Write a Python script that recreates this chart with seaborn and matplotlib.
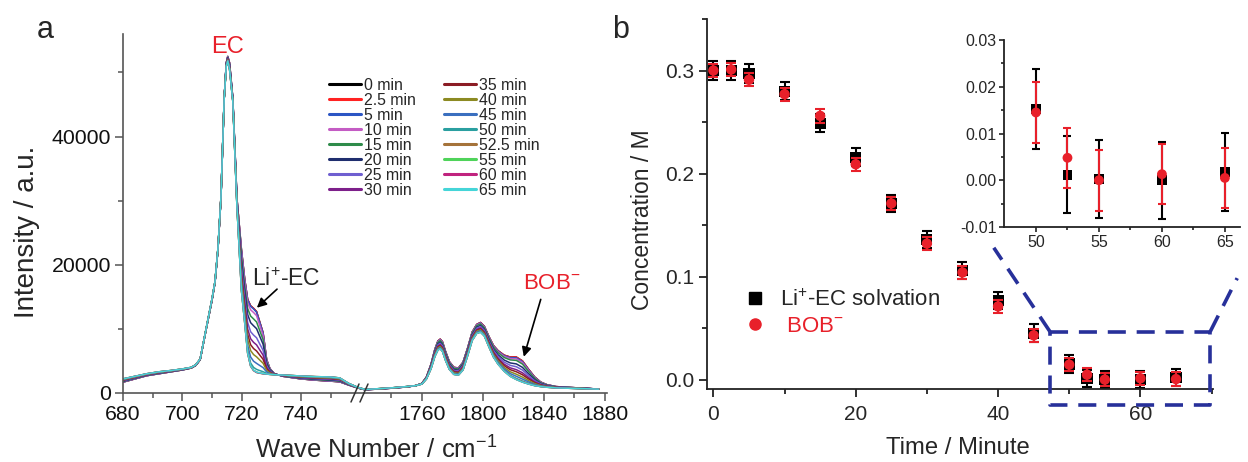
import numpy as np
import pandas as pd
import matplotlib
matplotlib.use('Agg')
import matplotlib.pyplot as plt
import seaborn as sns
from matplotlib.lines import Line2D
from matplotlib.ticker import MultipleLocator, FormatStrFormatter

sns.set_style('ticks')
plt.rcParams['font.family'] = ['Liberation Sans', 'DejaVu Sans']
plt.rcParams['mathtext.fontset'] = 'custom'
plt.rcParams['mathtext.rm'] = 'Liberation Sans'
plt.rcParams['mathtext.it'] = 'Liberation Sans'
plt.rcParams['axes.unicode_minus'] = False

# --- data: spectra (0 min and 65 min traces) ---
wn_left = [680, 684, 688, 692, 696, 700, 703, 704.5, 706, 708, 710, 711, 712, 713,
           714.1, 714.8, 715.3, 715.9, 717, 718.4, 719.9, 721, 722, 723, 724, 725,
           726, 727.2, 728.4, 729.5, 731, 734, 740, 745, 750, 753, 756, 759, 761.2]
i0_left = [1700, 2200, 2700, 3000, 3300, 3600, 3900, 4300, 5200, 9900, 14500, 17250,
           22400, 30300, 46000, 51500, 52500, 51500, 46000, 30300, 22400, 17800, 14600,
           13600, 13200, 12700, 11200, 9400, 5200, 3800, 3000, 2600, 2200, 2000, 1850,
           1750, 1250, 800, 550]
i65_left = [2200, 2600, 3000, 3300, 3500, 3750, 4000, 4400, 5300, 10000, 14700, 17400,
            22600, 30500, 46000, 51000, 51800, 50500, 45500, 29000, 16000, 11000, 6200,
            4200, 3500, 3200, 3100, 3000, 2950, 2900, 2850, 2800, 2650, 2550, 2500,
            2350, 1500, 900, 600]

wn_right = [1722, 1730, 1740, 1750, 1756, 1760, 1763, 1766, 1768.5, 1770.5, 1772, 1773.5,
            1775.5, 1778, 1781, 1784, 1787, 1790, 1793, 1796, 1798.5, 1801, 1804, 1807,
            1810, 1814, 1818, 1822, 1826, 1830, 1834, 1838, 1842, 1848, 1855, 1862,
            1870, 1876]
i0_right = [500, 600, 750, 950, 1150, 1500, 2500, 4500, 6800, 8100, 8400, 8000, 6500,
            4900, 4000, 3900, 4800, 7000, 9500, 10700, 11000, 10400, 8800, 7400, 6600,
            5900, 5600, 5600, 5000, 3700, 2500, 1700, 1300, 1000, 900, 800, 700, 600]
i65_right = [550, 650, 800, 1000, 1150, 1400, 2200, 3800, 5700, 6700, 6900, 6500, 5100,
             3700, 2900, 2800, 3600, 5800, 8200, 9300, 9500, 8900, 7200, 5600, 4500,
             3400, 2600, 2100, 1700, 1400, 1150, 1000, 900, 800, 750, 700, 650, 600]

# --- data: concentrations ---
times = [0, 2.5, 5, 10, 15, 20, 25, 30, 35, 40, 45, 50, 52.5, 55, 60, 65]
time_labels = ['0 min', '2.5 min', '5 min', '10 min', '15 min', '20 min', '25 min',
               '30 min', '35 min', '40 min', '45 min', '50 min', '52.5 min', '55 min',
               '60 min', '65 min']
li_conc = [0.300, 0.300, 0.297, 0.280, 0.249, 0.216, 0.171, 0.136, 0.106, 0.077,
           0.045, 0.0152, 0.0012, 0.0003, 0.0, 0.0018]
li_err = [0.009, 0.009, 0.009, 0.009, 0.009, 0.009, 0.0085, 0.0085, 0.0085, 0.0085,
          0.0085, 0.0085, 0.0083, 0.0083, 0.0082, 0.0083]
bob_conc = [0.300, 0.301, 0.291, 0.277, 0.256, 0.209, 0.171, 0.132, 0.104, 0.071,
            0.043, 0.0145, 0.0048, 0.0, 0.0013, 0.0005]
bob_err = [0.0065, 0.0065, 0.0065, 0.0065, 0.0065, 0.0065, 0.0065, 0.0065, 0.0065,
           0.0065, 0.0065, 0.0065, 0.0064, 0.0065, 0.0064, 0.0065]

colors = ['#000000', '#ff2222', '#2b55c4', '#c45cc4', '#2e8b4a', '#1f2e6e', '#6f5fd0',
          '#7d1f8a', '#8b1c24', '#8c8a22', '#3a6fbf', '#2a9fa0', '#a5733a', '#4fd35a',
          '#c0237e', '#45d5d8']
RED = '#e8202a'
NAVY = '#27309a'

W, H = 1248, 462


def box(x0, y0, x1, y1):
    # pixel box (top-left origin) -> figure fraction rect
    return [x0 / W, 1 - y1 / H, (x1 - x0) / W, (y1 - y0) / H]


def fx(x):
    return x / W


def fy(y):
    return 1 - y / H


# spectra in the long format; intermediate times mixed by measured concentration
rows = []
for lab, cl, cb in zip(time_labels, li_conc, bob_conc):
    fl = cl / li_conc[0]
    fb = cb / bob_conc[0]
    for w, a, b in zip(wn_left, i0_left, i65_left):
        rows.append(('L', lab, w, b + fl * (a - b)))
    for w, a, b in zip(wn_right, i0_right, i65_right):
        rows.append(('R', lab, w, b + fb * (a - b)))
spec = pd.DataFrame(rows, columns=['part', 'time', 'wn', 'I'])

fig = plt.figure(figsize=(W / 100, H / 100), dpi=100)

ax1 = fig.add_axes(box(123, 34, 364, 393))
ax2 = fig.add_axes(box(364, 34, 607, 393))
ax2.patch.set_alpha(0)
for ax, part in [(ax1, 'L'), (ax2, 'R')]:
    sns.lineplot(data=spec[spec.part == part], x='wn', y='I', hue='time',
                 hue_order=time_labels, palette=colors, estimator=None, sort=False,
                 lw=1.1, legend=False, ax=ax)
    ax.set_ylim(0, 56000)
    ax.set_xlabel('')
    ax.set_ylabel('')
    ax.spines['top'].set_visible(False)
    ax.spines['right'].set_visible(False)
    for s in ax.spines.values():
        s.set_linewidth(1.2)
        s.set_color('#555555')
    ax.tick_params(which='major', length=5.5, width=1.1, labelsize=15.3, pad=3,
                   color='#555555', labelcolor='#111111')
    ax.tick_params(which='minor', length=3.5, width=1.1, color='#555555')

ax1.set_xlim(680, 761.2)
ax1.set_xticks([680, 700, 720, 740])
ax1.set_xticks([690, 710, 730, 750], minor=True)
ax1.set_yticks([0, 20000, 40000])
ax1.set_yticks([10000, 30000, 50000], minor=True)
ax1.set_yticklabels(['0', '20000', '40000'])

ax2.set_xlim(1722, 1881.5)
ax2.set_xticks([1760, 1800, 1840, 1880])
ax2.set_xticks([1740, 1780, 1820, 1860], minor=True)
ax2.spines['left'].set_visible(False)
ax2.tick_params(axis='y', which='both', left=False, labelleft=False)

# axis break marks
for dx in (-5, 4):
    fig.add_artist(Line2D([fx(360 + dx - 4), fx(360 + dx + 4)], [fy(402), fy(384)],
                          color='#333333', lw=1.1))

# legend for the spectra
handles = [Line2D([], [], color=c, lw=2.2) for c in colors]
fig.legend(handles, time_labels, ncol=2, loc='upper left',
           bbox_to_anchor=(fx(329), fy(78)), frameon=False, fontsize=11.4,
           handlelength=2.0, handletextpad=0.2, columnspacing=1.8,
           labelspacing=0.0, borderpad=0, borderaxespad=0)

ax1.text(715.2, 53000, 'EC', color=RED, fontsize=17, ha='center', va='baseline')
ax1.annotate('', xy=(725.1, 13300), xytext=(731.9, 16200),
             arrowprops=dict(arrowstyle='-|>', color='black', lw=1.2,
                             mutation_scale=14, shrinkA=0, shrinkB=0))
ax1.text(723.6, 16700, 'Li$^{+}$-EC', fontsize=16.5, ha='left', va='baseline')
ax2.annotate('', xy=(1826.9, 5650), xytext=(1838, 14600),
             arrowprops=dict(arrowstyle='-|>', color='black', lw=1.2,
                             mutation_scale=14, shrinkA=0, shrinkB=0))
ax2.text(1826.5, 16200, 'BOB$^{-}$', color=RED, fontsize=16, ha='left', va='baseline')

fig.text(fx(27), fy(232), 'Intensity / a.u.', rotation=90, fontsize=20,
         ha='center', va='center')
fig.text(fx(376), fy(450), 'Wave Number / cm$^{-1}$', fontsize=18.5,
         ha='center', va='center')
fig.text(fx(45), fy(38), 'a', fontsize=22, ha='center', va='baseline')
fig.text(fx(621), fy(38), 'b', fontsize=22, ha='center', va='baseline')

# --- panel b ---
axb = fig.add_axes(box(707, 19, 1213, 389))


def draw_points(ax, sq, ci, cap):
    ax.errorbar(times, li_conc, yerr=li_err, fmt='none', ecolor='black',
                elinewidth=1.5, capsize=cap, capthick=1.5, zorder=2)
    sns.scatterplot(x=times, y=li_conc, marker='s', color='black', s=sq,
                    edgecolor='none', linewidth=0, ax=ax, zorder=3)
    ax.errorbar(times, bob_conc, yerr=bob_err, fmt='none', ecolor=RED,
                elinewidth=1.5, capsize=cap, capthick=1.5, zorder=4)
    sns.scatterplot(x=times, y=bob_conc, marker='o', color=RED, s=ci,
                    edgecolor='none', linewidth=0, ax=ax, zorder=5)


draw_points(axb, 64, 56, 3.8)
axb.set_xlim(-0.9, 70.2)
axb.set_ylim(-0.0091, 0.35)
axb.set_xticks([0, 20, 40, 60])
axb.xaxis.set_minor_locator(MultipleLocator(10))
axb.set_yticks([0.0, 0.1, 0.2, 0.3])
axb.yaxis.set_minor_locator(MultipleLocator(0.05))
axb.yaxis.set_major_formatter(FormatStrFormatter('%.1f'))
axb.spines['top'].set_visible(False)
axb.spines['right'].set_visible(False)
for s in axb.spines.values():
    s.set_linewidth(1.3)
    s.set_color('#222222')
axb.tick_params(which='major', length=5.5, width=1.3, labelsize=15, color='#222222')
axb.tick_params(axis='x', which='major', pad=6)
axb.tick_params(which='minor', length=3.5, width=1.3, color='#222222')

leg_handles = [Line2D([], [], ls='none', marker='s', color='black', markersize=8),
               Line2D([], [], ls='none', marker='o', color=RED, markersize=8)]
leg = axb.legend(leg_handles, ['Li$^{+}$-EC solvation', ' BOB$^{-}$'],
                 loc='upper left', bbox_to_anchor=(0.072, 0.27), frameon=False,
                 fontsize=16, handlelength=1.0, handletextpad=0.65,
                 labelspacing=0.25, borderpad=0, borderaxespad=0)
leg.get_texts()[1].set_color(RED)

fig.text(fx(643), fy(220), 'Concentration / M', rotation=90, fontsize=16.5,
         ha='center', va='center')
fig.text(fx(958), fy(448), 'Time / Minute', fontsize=17.2, ha='center', va='center')

# zoom box and connectors
zx0, zx1, zy0, zy1 = 47.3, 69.8, -0.025, 0.0465
dash = dict(color=NAVY, lw=2.6, dashes=(5, 3), clip_on=False, zorder=6)
axb.plot([zx0, zx1, zx1, zx0, zx0], [zy1, zy1, zy0, zy0, zy1], **dash)
axb.plot([zx0, 39.4], [zy1, 0.128], **dash)
axb.plot([zx1, 73.6], [zy1, 0.0985], **dash)

# inset
axi = fig.add_axes(box(1004, 40, 1240, 227))
draw_points(axi, 50, 50, 3.2)
axi.set_xlim(47.46, 66.2)
axi.set_ylim(-0.01, 0.03)
axi.set_xticks([50, 55, 60, 65])
axi.set_xticks([52.5, 57.5, 62.5], minor=True)
axi.set_yticks([-0.01, 0.0, 0.01, 0.02, 0.03])
axi.yaxis.set_minor_locator(MultipleLocator(0.005))
axi.yaxis.set_major_formatter(FormatStrFormatter('%.2f'))
axi.spines['top'].set_visible(False)
axi.spines['right'].set_visible(False)
for s in axi.spines.values():
    s.set_linewidth(1.3)
    s.set_color('#222222')
axi.tick_params(which='major', length=3.5, width=1.2, labelsize=11.5, pad=2,
                color='#222222')
axi.tick_params(which='minor', length=2.5, width=1.2, color='#222222')

fig.savefig('out.png', dpi=100)
